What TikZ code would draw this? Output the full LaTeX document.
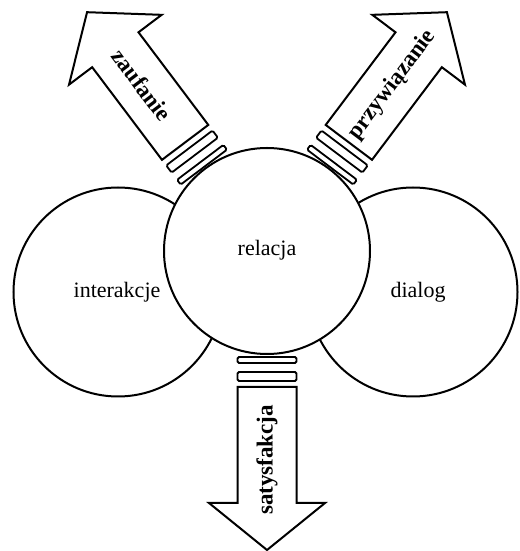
\documentclass[tikz,border=0pt]{standalone}
\usepackage{fontspec}
\setmainfont{Liberation Serif}
\begin{document}
\begin{tikzpicture}[x=1pt,y=1pt,line width=2pt,
  circ/.style={draw,circle,inner sep=0pt,font=\fontsize{22}{24}\selectfont},
  ringbox/.style={draw,fill=white,rounded corners=1.5pt,line width=1.8pt},
  bigarrow/.style={draw,fill=white,line join=miter},
  arrlabel/.style={font=\fontsize{23}{25}\bfseries\selectfont,inner sep=0pt}]
\useasboundingbox (0,0) rectangle (519,551);
% side circles
\node[circ,minimum size=209pt] (inter) at (118,259) {};
\node[circ,minimum size=209pt] (dial) at (413,259) {};
\node[font=\fontsize{22}{24}\selectfont] (interT) at (117,259) {interakcje};
\node[font=\fontsize{22}{24}\selectfont] (dialT) at (418,259) {dialog};
% central circle
\node[circ,fill=white,minimum size=206pt] (rel) at (267,300) {};
\node[font=\fontsize{22}{24}\selectfont] (relT) at (267,301) {relacja};
% arrows
\begin{scope}[shift={(rel.center)},rotate=127]
  \draw[bigarrow] (136,-29) -- (252,-29) -- (252,-58) -- (299,0) -- (252,58) -- (252,29) -- (136,29) -- cycle;
  \draw[ringbox] (105,-29) rectangle (111,29);
  \draw[ringbox] (120,-29) rectangle (129,29);
  \node[arrlabel,rotate=-53] (zauf) at (208,0) {zaufanie};
\end{scope}
\begin{scope}[shift={(rel.center)},rotate=53]
  \draw[bigarrow] (136,-29) -- (252,-29) -- (252,-58) -- (299,0) -- (252,58) -- (252,29) -- (136,29) -- cycle;
  \draw[ringbox] (105,-29) rectangle (111,29);
  \draw[ringbox] (120,-29) rectangle (129,29);
  \node[arrlabel,rotate=53] (przyw) at (208,0) {przywiązanie};
\end{scope}
\begin{scope}[shift={(rel.center)},rotate=-90]
  \draw[bigarrow] (136,-29.5) -- (252,-29.5) -- (252,-58) -- (299,0) -- (252,58) -- (252,29.5) -- (136,29.5) -- cycle;
  \draw[ringbox] (106,-29.5) rectangle (112,29.5);
  \draw[ringbox] (121,-29.5) rectangle (130,29.5);
  \node[arrlabel,rotate=90] (saty) at (209,0) {satysfakcja};
\end{scope}
\end{tikzpicture}
\end{document}
